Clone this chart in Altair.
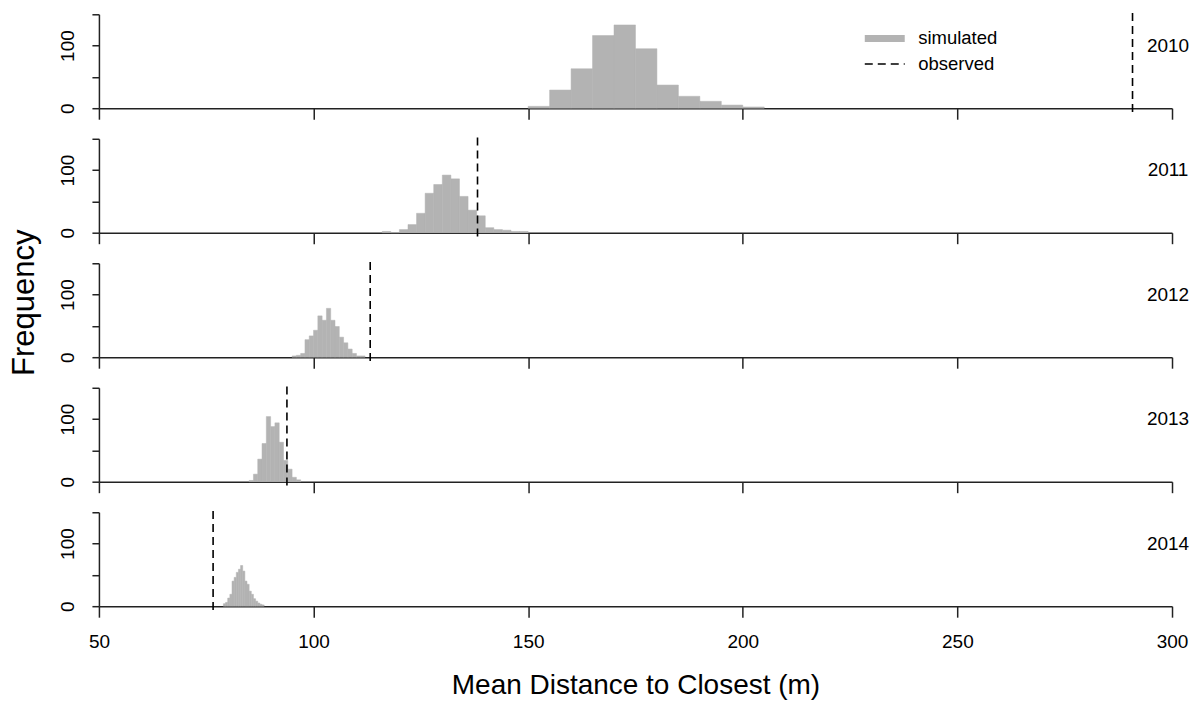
import altair as alt
import pandas as pd

# ---- data ----
years = ["2010", "2011", "2012", "2013", "2014"]
bin_start = [150.0, 116.0, 95.0, 85.0, 79.0]
bin_width = [5.0, 2.0, 1.0, 1.0, 0.5]
counts_2010 = [3, 29, 63, 116, 133, 95, 37, 19, 11, 5, 2]
counts_2011 = [2, 0, 5, 13, 31, 63, 77, 92, 86, 58, 36, 27, 8, 5, 4, 2, 2]
counts_2012 = [2, 3, 6, 28, 34, 43, 66, 59, 78, 59, 49, 32, 23, 13, 6, 2, 2]
counts_2013 = [2, 12, 36, 61, 104, 88, 94, 63, 34, 20, 7, 3]
counts_2014 = [4, 6, 13, 19, 40, 46, 54, 59, 65, 56, 40, 35, 24, 19, 12, 8, 5, 3, 2]
all_counts = [counts_2010, counts_2011, counts_2012, counts_2013, counts_2014]
observed = [290.8, 138.2, 113.2, 93.8, 76.6]
x_ticks = [50, 100, 150, 200, 250, 300]
y_ticks = [0, 50, 100, 150]
y_hidden = [50, 150]
legend_kinds = ["simulated", "observed"]

FONT = "Liberation Sans"
GREY = "#b3b3b3"
W = 1074
H = 94
x_dom = [x_ticks[0], x_ticks[-1]]
y_dom = [y_ticks[0], y_ticks[-1]]
ext = 0.04 * (y_dom[1] - y_dom[0])  # R-style 4% extension for the dashed line

hide_expr = " || ".join(f"datum.value == {v}" for v in y_hidden)


def panel(i):
    bottom = i == len(years) - 1
    counts = all_counts[i]
    lo = [bin_start[i] + k * bin_width[i] for k in range(len(counts))]
    hi = [v + bin_width[i] for v in lo]
    df = pd.DataFrame({"lo": lo, "hi": hi, "count": counts})

    xscale = alt.Scale(domain=x_dom, nice=False, zero=False)
    yscale = alt.Scale(domain=y_dom, nice=False)
    xaxis = alt.Axis(
        values=x_ticks,
        labels=bottom,
        labelFlush=False,
        labelOverlap=False,
        title="Mean Distance to Closest (m)" if bottom else None,
        tickSize=11,
        labelFontSize=19,
        labelPadding=15,
        titleFontSize=28,
        titlePadding=20,
    )
    yaxis = alt.Axis(
        values=y_ticks,
        format="d",
        labelExpr=f"({hide_expr}) ? '' : datum.label",
        labelAngle=270,
        labelAlign="center",
        labelBaseline="alphabetic",
        labelOverlap=False,
        labelFlush=False,
        labelBound=False,
        labelFontSize=19,
        labelPadding=18,
        tickSize=7,
        title="Frequency" if i == 2 else None,
        titleFontSize=31,
        titlePadding=18,
        titleY=39,
    )

    bars = alt.Chart(df).mark_rect(color=GREY, stroke=GREY, strokeWidth=0.5).encode(
        x=alt.X("lo:Q", scale=xscale, axis=xaxis),
        x2="hi:Q",
        y=alt.Y("count:Q", scale=yscale, axis=yaxis),
        y2=alt.datum(0),
    )

    obs_df = pd.DataFrame(
        {"obs": [observed[i]], "kind": ["observed"], "ylo": [y_dom[0] - ext], "yhi": [y_dom[1] + ext]}
    )
    rule_base = alt.Chart(obs_df).mark_rule(clip=False, strokeCap="butt")
    xr = alt.X("obs:Q", scale=xscale, axis=xaxis)
    yr = alt.Y("ylo:Q", scale=yscale, axis=yaxis)
    if i == 0:
        leg = dict(title=None, orient="none", legendX=773, legendY=10.7)
        rule = rule_base.encode(
            x=xr,
            y=yr,
            y2="yhi:Q",
            color=alt.Color(
                "kind:N",
                scale=alt.Scale(domain=legend_kinds, range=[GREY, "black"]),
                legend=alt.Legend(
                    symbolType="M-2,0H2",
                    symbolSize=400,
                    labelFontSize=18.5,
                    labelFont=FONT,
                    labelColor="black",
                    labelOffset=20,
                    rowPadding=-6,
                    **leg,
                ),
            ),
            strokeDash=alt.StrokeDash(
                "kind:N",
                scale=alt.Scale(domain=legend_kinds, range=[[1, 0], [8, 5]]),
                legend=alt.Legend(**leg),
            ),
            strokeWidth=alt.StrokeWidth(
                "kind:N",
                scale=alt.Scale(type="ordinal", domain=legend_kinds, range=[7, 1.6]),
                legend=alt.Legend(**leg),
            ),
        )
    else:
        rule = rule_base.mark_rule(
            clip=False, strokeCap="butt", color="black", strokeDash=[8, 5], strokeWidth=1.6
        ).encode(x=xr, y=yr, y2="yhi:Q")

    yr_df = pd.DataFrame({"year": [years[i]], "x": [x_ticks[-1]], "y": [100]})
    label = alt.Chart(yr_df).mark_text(
        font=FONT, fontSize=19, color="black", align="center", baseline="middle", clip=False, dx=-4
    ).encode(
        x=alt.X("x:Q", scale=xscale, axis=xaxis),
        y=alt.Y("y:Q", scale=yscale, axis=yaxis),
        text="year:N",
    )

    return alt.layer(bars, rule, label).properties(width=W, height=H)


chart = (
    alt.vconcat(*[panel(i) for i in range(len(years))], spacing=30.6, bounds="flush")
    .properties(padding={"left": 0, "top": 1, "right": 0, "bottom": 0})
    .configure_view(stroke=None)
    .configure_axis(
        grid=False,
        labelFont=FONT,
        titleFont=FONT,
        labelColor="black",
        titleColor="black",
        titleFontWeight="normal",
        domainColor="#222222",
        tickColor="#222222",
        domainWidth=1.5,
        tickWidth=1.5,
        labelOverlap=False,
    )
    .configure_legend(labelFont=FONT)
)

chart.save("out.html", embed_options={"renderer": "svg", "actions": False})
